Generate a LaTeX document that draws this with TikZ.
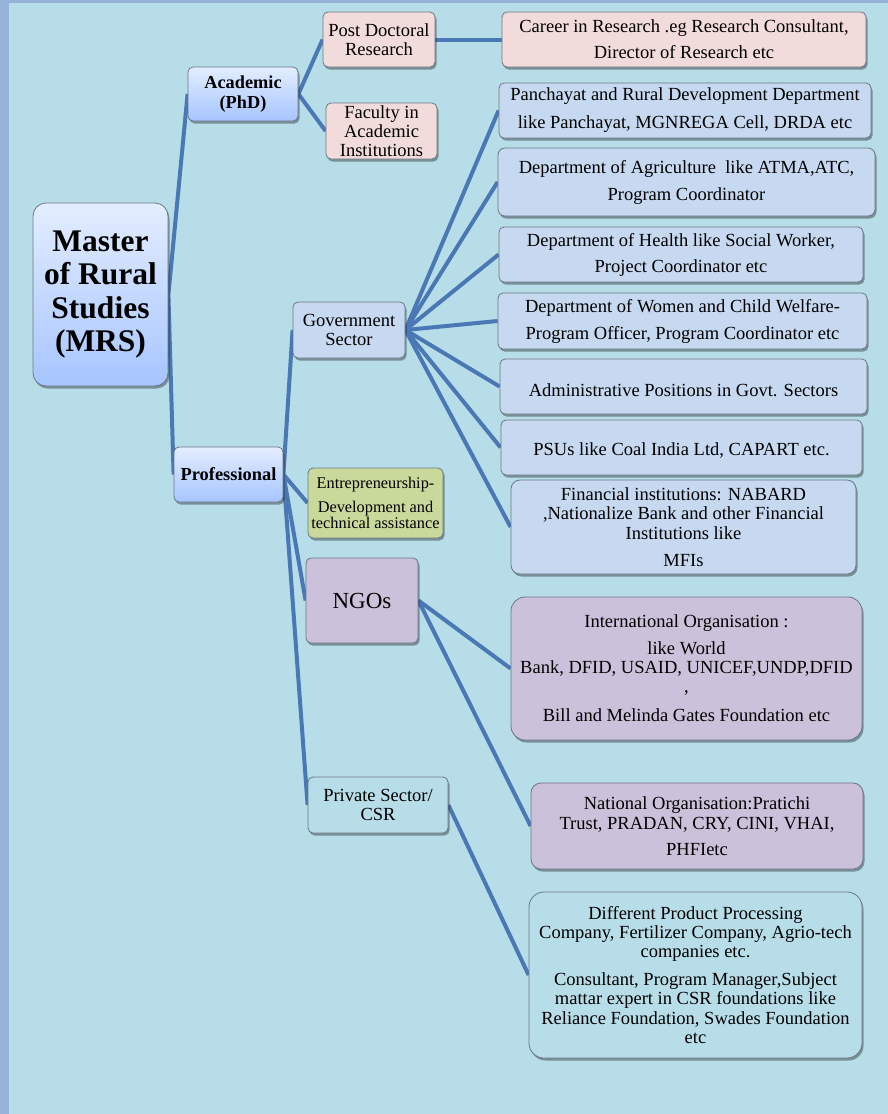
\documentclass[tikz,border=0pt]{standalone}
\usepackage{fontspec}
\setmainfont{Liberation Serif}
\usetikzlibrary{shadows}
\definecolor{bgc}{HTML}{B7DDE8}
\definecolor{strip}{HTML}{95B3D7}
\definecolor{bord}{HTML}{6B7784}
\definecolor{conn}{HTML}{4A78B4}
\definecolor{pinkf}{HTML}{F2DCDB}
\definecolor{govf}{HTML}{C6D9F1}
\definecolor{greenf}{HTML}{C9D99C}
\definecolor{purf}{HTML}{CCC1DA}
\definecolor{gtop}{HTML}{E3EDFF}
\definecolor{gbot}{HTML}{A6C5FF}
\pgfdeclarelayer{bglayer}
\pgfdeclarelayer{lines}
\pgfsetlayers{bglayer,lines,main}
\tikzset{
  box/.style={draw=bord, line width=0.8pt, rounded corners=5pt, inner sep=0pt, align=center,
    drop shadow={shadow xshift=1.5pt, shadow yshift=-2.5pt, fill=black, opacity=0.35},
    font=\fontsize{18.5}{27}\selectfont},
  tight/.style={font=\fontsize{18.5}{19.3}\selectfont},
  grad/.style={box, top color=gtop, bottom color=gbot},
  pinkbox/.style={box, fill=pinkf},
  govbox/.style={box, fill=govf},
  greenbox/.style={box, fill=greenf},
  purbox/.style={box, fill=purf},
  plainbox/.style={box, fill=bgc},
  conline/.style={draw=conn, line width=4pt},
}
\begin{document}
\begin{tikzpicture}[x=1pt,y=-1pt]
\useasboundingbox (0,0) rectangle (888,1114);
\begin{pgfonlayer}{bglayer}
  \fill[bgc] (0,0) rectangle (888,1114);
  \fill[strip] (0,0) rectangle (9,1114);
  \fill[strip] (0,0) rectangle (888,2.5);
\end{pgfonlayer}

% level 0
\node[grad, rounded corners=13pt, minimum width=135pt, minimum height=183pt,
  font=\fontsize{31.5}{33.5}\selectfont\bfseries] (mrs) at (100.5,294.5)
  {Master\\of Rural\\Studies\\(MRS)};

% level 1
\node[grad, minimum width=110pt, minimum height=54pt, font=\fontsize{18.3}{20}\selectfont\bfseries]
  (acad) at (243,94) {Academic\\(PhD)};
\node[grad, minimum width=109pt, minimum height=55pt, font=\fontsize{18.4}{20}\selectfont\bfseries]
  (prof) at (228.5,474.5) {Professional};

% academic children
\node[pinkbox, tight, minimum width=112pt, minimum height=55pt] (postdoc) at (379,39.5)
  {Post Doctoral\\Research};
\node[pinkbox, tight, minimum width=111pt, minimum height=56pt] (faculty) at (381.5,131)
  {Faculty in\\Academic\\Institutions};
\node[pinkbox, font=\fontsize{18.5}{26}\selectfont, minimum width=364pt, minimum height=55pt] (career) at (684,39.5)
  {Career in Research .eg Research Consultant,\\Director of Research etc};

% professional children
\node[govbox, tight, minimum width=112pt, minimum height=56pt] (gov) at (349,330)
  {Government\\Sector};
\node[greenbox, font=\fontsize{16.3}{16}\selectfont, minimum width=135pt, minimum height=70pt] (entre) at (375.5,503)
  {Entrepreneurship-\\[8pt]Development and\\technical assistance};
\node[purbox, font=\fontsize{23}{25}\selectfont, minimum width=112pt, minimum height=85pt] (ngo) at (362,600.5)
  {NGOs};
\node[plainbox, tight, minimum width=140pt, minimum height=56pt] (priv) at (378,805)
  {Private Sector/\\CSR};

% government children
\node[govbox, font=\fontsize{18.5}{28}\selectfont, minimum width=372pt, minimum height=55pt] (panch) at (685,110.5)
  {Panchayat and Rural Development Department\\like Panchayat, MGNREGA Cell, DRDA etc};
\node[govbox, minimum width=377pt, minimum height=68pt, rounded corners=7pt] (agri) at (686.5,182)
  {Department of Agriculture\ \ like ATMA,ATC,\\Program Coordinator};
\node[govbox, font=\fontsize{18.5}{26}\selectfont, minimum width=364pt, minimum height=55pt] (health) at (681,254.5)
  {Department of Health like Social Worker,\\Project Coordinator etc};
\node[govbox, minimum width=369pt, minimum height=56pt] (women) at (682.5,321)
  {Department of Women and Child Welfare-\\Program Officer, Program Coordinator etc};
\node[govbox, minimum width=367pt, minimum height=55pt, text height=19pt, text depth=0pt] (admin) at (683.5,386.5)
  {Administrative Positions in Govt. Sectors};
\node[govbox, minimum width=361pt, minimum height=55pt, text height=15pt, text depth=0pt] (psu) at (681.5,447.5)
  {PSUs like Coal India Ltd, CAPART etc.};
\node[govbox, font=\fontsize{18.5}{19.5}\selectfont, minimum width=345pt, minimum height=94pt, rounded corners=9pt] (fin) at (683.5,527)
  {Financial institutions: NABARD\\,Nationalize Bank and other Financial\\Institutions like\\[8pt]MFIs};

% NGO children
\node[purbox, font=\fontsize{18.5}{19}\selectfont, minimum width=351pt, minimum height=143pt, rounded corners=14pt] (intl) at (686.5,668.5)
  {International Organisation :\\[8pt]like World\\Bank, DFID, USAID, UNICEF,UNDP,DFID\\,\\[10pt]Bill and Melinda Gates Foundation etc};
\node[purbox, font=\fontsize{18.5}{20}\selectfont, minimum width=332pt, minimum height=86pt, rounded corners=10pt] (natl) at (697,826)
  {National Organisation:Pratichi\\Trust, PRADAN, CRY, CINI, VHAI,\\[6pt]PHFIetc};

% private children
\node[plainbox, font=\fontsize{18.5}{19.3}\selectfont, minimum width=333pt, minimum height=166pt, rounded corners=15pt] (diff) at (695.5,975)
  {Different Product Processing\\Company, Fertilizer Company, Agrio-tech\\companies etc.\\[8.5pt]Consultant, Program Manager,Subject\\mattar expert in CSR foundations like\\Reliance Foundation, Swades Foundation\\etc};

\begin{pgfonlayer}{lines}
  \draw[conline] (mrs.east) -- (acad.west);
  \draw[conline] (mrs.east) -- (prof.west);
  \draw[conline] (acad.east) -- (postdoc.west);
  \draw[conline] (acad.east) -- (faculty.west);
  \draw[conline] (postdoc.east) -- (career.west);
  \draw[conline] (prof.east) -- (gov.west);
  \draw[conline] (prof.east) -- (entre.west);
  \draw[conline] (prof.east) -- (ngo.west);
  \draw[conline] (prof.east) -- (priv.west);
  \foreach \t in {panch,agri,health,women,admin,psu,fin}
    \draw[conline] (gov.east) -- (\t.west);
  \draw[conline] (ngo.east) -- (intl.west);
  \draw[conline] (ngo.east) -- (natl.west);
  \draw[conline] (priv.east) -- (diff.west);
\end{pgfonlayer}
\end{tikzpicture}
\end{document}
